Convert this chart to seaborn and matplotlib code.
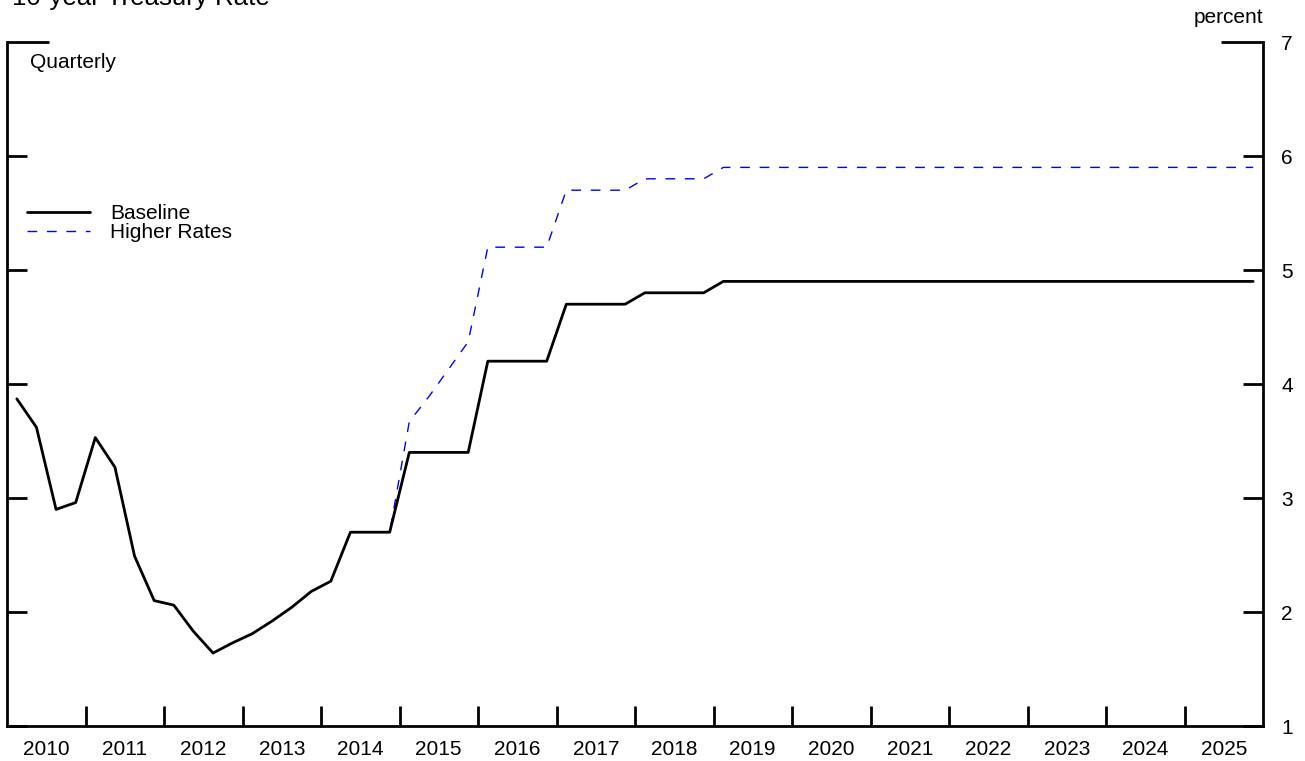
import seaborn as sns
import matplotlib.pyplot as plt
import pandas as pd

# quarterly values, one row per year
years = list(range(2010, 2026))
baseline = [
    3.87, 3.62, 2.90, 2.96,   # 2010
    3.53, 3.27, 2.49, 2.10,   # 2011
    2.06, 1.83, 1.64, 1.73,   # 2012
    1.81, 1.92, 2.04, 2.18,   # 2013
    2.27, 2.70, 2.70, 2.70,   # 2014
    3.40, 3.40, 3.40, 3.40,   # 2015
    4.20, 4.20, 4.20, 4.20,   # 2016
    4.70, 4.70, 4.70, 4.70,   # 2017
    4.80, 4.80, 4.80, 4.80,   # 2018
    4.90, 4.90, 4.90, 4.90,   # 2019
    4.90, 4.90, 4.90, 4.90,   # 2020
    4.90, 4.90, 4.90, 4.90,   # 2021
    4.90, 4.90, 4.90, 4.90,   # 2022
    4.90, 4.90, 4.90, 4.90,   # 2023
    4.90, 4.90, 4.90, 4.90,   # 2024
    4.90, 4.90, 4.90, 4.90,   # 2025
]
higher_rates = [
    3.87, 3.62, 2.90, 2.96,   # 2010
    3.53, 3.27, 2.49, 2.10,   # 2011
    2.06, 1.83, 1.64, 1.73,   # 2012
    1.81, 1.92, 2.04, 2.18,   # 2013
    2.27, 2.70, 2.70, 2.70,   # 2014
    3.67, 3.89, 4.13, 4.37,   # 2015
    5.20, 5.20, 5.20, 5.20,   # 2016
    5.70, 5.70, 5.70, 5.70,   # 2017
    5.80, 5.80, 5.80, 5.80,   # 2018
    5.90, 5.90, 5.90, 5.90,   # 2019
    5.90, 5.90, 5.90, 5.90,   # 2020
    5.90, 5.90, 5.90, 5.90,   # 2021
    5.90, 5.90, 5.90, 5.90,   # 2022
    5.90, 5.90, 5.90, 5.90,   # 2023
    5.90, 5.90, 5.90, 5.90,   # 2024
    5.90, 5.90, 5.90, 5.90,   # 2025
]
y_ticks = [1, 2, 3, 4, 5, 6, 7]

if __name__ == "__main__":

    sns.set_theme(style="white")
    plt.rcParams["font.family"] = ["Liberation Sans", "DejaVu Sans"]
    plt.rcParams["text.color"] = "black"
    plt.rcParams["xtick.color"] = "black"
    plt.rcParams["ytick.color"] = "black"
    plt.rcParams["xtick.labelcolor"] = "black"
    plt.rcParams["ytick.labelcolor"] = "black"

    # quarters plotted at the middle of each quarter of the year
    quarters = pd.period_range(f"{years[0]}Q1", f"{years[-1]}Q4", freq="Q")
    df = pd.DataFrame({
        "t": [p.year + (p.quarter - 0.5) / 4 for p in quarters],
        "Baseline": baseline,
        "Higher Rates": higher_rates,
    })

    W, H = 1305, 761
    fig = plt.figure(figsize=(W / 100, H / 100), dpi=100)
    ax = fig.add_axes([7 / W, 35 / H, 1256 / W, 684 / H])

    sns.lineplot(df, x="t", y="Higher Rates", color="#0000ff", lw=1.0,
                 dashes=(7, 7), ax=ax, label="Higher Rates", zorder=2)
    sns.lineplot(df, x="t", y="Baseline", color="black", lw=2.0,
                 ax=ax, label="Baseline", zorder=3)

    ax.set_xlim(years[0], years[-1] + 1)
    ax.set_ylim(y_ticks[0], y_ticks[-1])
    ax.set_xlabel("")
    ax.set_ylabel("")

    # spines: no top
    ax.spines["top"].set_visible(False)
    for s in ["left", "right", "bottom"]:
        ax.spines[s].set_linewidth(2.0)
        ax.spines[s].set_color("black")

    # x: tick marks at year boundaries, labels centred on the years
    ax.set_xticks(years[1:])
    ax.set_xticklabels([])
    ax.set_xticks([y + 0.5 for y in years], minor=True)
    ax.set_xticklabels([str(y) for y in years], minor=True, fontsize=15)
    ax.tick_params(axis="x", which="major", direction="in", length=14.4,
                   width=2.0, color="black", bottom=True)
    ax.tick_params(axis="x", which="minor", length=0, pad=10, bottom=True)

    # y: ticks on both sides, labels on the right only
    ax.set_yticks(y_ticks)
    ax.set_yticklabels([str(v) for v in y_ticks], fontsize=15)
    ax.tick_params(axis="y", which="major", direction="in", length=14.4,
                   width=2.0, color="black", left=True, right=True,
                   labelleft=False, labelright=True, pad=13)
    top_tick = ax.yaxis.get_major_ticks()[-1]
    top_tick.tick1line.set_markersize(30)
    top_tick.tick2line.set_markersize(30)
    ax.grid(False)

    # legend, order baseline first
    handles, labels = ax.get_legend_handles_labels()
    ax.legend(handles[::-1], labels[::-1], loc="upper left",
              bbox_to_anchor=(20 / 1256, 0.763), frameon=False, fontsize=15,
              handlelength=3.0, handletextpad=1.0, labelspacing=0.0,
              borderpad=0, borderaxespad=0, labelcolor="black")

    ax.text(23 / 1256, 1 - 20 / 684, "Quarterly", transform=ax.transAxes,
            va="center", ha="left", fontsize=15)
    ax.text(1.0, 1 + 24 / 684, "percent", transform=ax.transAxes,
            va="center", ha="right", fontsize=15)
    fig.text(12 / W, 1 - 5 / H, "10-year Treasury Rate", va="baseline",
             ha="left", fontsize=18.6)

    fig.savefig("out.png", dpi=100)
